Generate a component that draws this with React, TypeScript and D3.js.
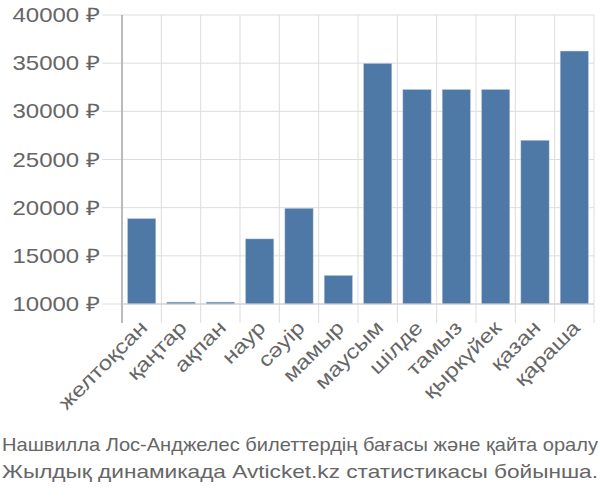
import React from "react";
import * as d3 from "d3";

const categories = ["желтоқсан", "қаңтар", "ақпан", "наур", "сәуір", "мамыр", "маусым", "шілде", "тамыз", "қыркүйек", "қазан", "қараша"];
const prices = [18870, 10200, 10200, 16760, 19940, 12970, 34980, 32270, 32270, 32270, 27000, 36260];
const yTicks = [10000, 15000, 20000, 25000, 30000, 35000, 40000];
const titleLines = [
  "Нашвилла Лос-Анджелес билеттердің бағасы және қайта оралу",
  "Жылдық динамикада Avticket.kz статистикасы бойынша.",
];

export default function App() {
  const W = 600, H = 500;
  const left = 122, right = 594, top = 15, bottom = 304, tickEnd = 323;
  const x = d3.scaleBand<string>().domain(categories).range([left, right]).paddingInner(0.28).paddingOuter(0.14);
  const xg = d3.scaleBand<string>().domain(categories).range([left, right]);
  const y = d3.scaleLinear().domain([10000, 40000]).range([bottom, top]);
  const textColor = "#666";
  const font = "'Liberation Sans', Arial, sans-serif";
  return (
    <svg width={W} height={H} style={{ position: "absolute", left: 0, top: 0 }} fontFamily={font}>
      <rect width={W} height={H} fill="#fff" />
      {yTicks.map((t) => (
        <g key={t}>
          <line x1={102} x2={right} y1={y(t)} y2={y(t)} stroke="#ddd" strokeWidth={1} />
          <text
            transform={`translate(100,${y(t)}) scale(1.2,1)`}
            dy="0.35em"
            textAnchor="end"
            fontSize={20}
            fill={textColor}
          >
            {t} ₽
          </text>
        </g>
      ))}
      {categories.map((c) => (
        <line key={c} x1={xg(c)!} x2={xg(c)!} y1={top} y2={tickEnd} stroke="#ddd" />
      ))}
      <line x1={right} x2={right} y1={top} y2={tickEnd} stroke="#ddd" />
      {categories.map((c, i) => (
        <rect
          key={c}
          x={x(c)!}
          y={y(prices[i])}
          width={x.bandwidth()}
          height={bottom - y(prices[i])}
          fill="#4e79a7"
          stroke="#c8d4e3"
          strokeWidth={0.5}
        />
      ))}
      <line x1={left} x2={left} y1={top} y2={tickEnd} stroke="#aaa" strokeWidth={1.5} />
      <line x1={left} x2={right} y1={bottom} y2={bottom} stroke="#ccc" strokeWidth={1} />
      {categories.map((c) => {
        const cx = xg(c)! + xg.bandwidth() / 2 + 2;
        const cy = 324;
        return (
          <text
            key={c}
            transform={`translate(${cx},${cy}) rotate(-45) scale(1.2,1)`}
            textAnchor="end"
            dy="0.35em"
            fontSize={20}
            fill={textColor}
          >
            {c}
          </text>
        );
      })}
      {titleLines.map((l, i) => (
        <text
          key={i}
          x={2}
          y={451 + i * 27}
          textLength={596}
          lengthAdjust="spacingAndGlyphs"
          fontSize={18.5}
          fill={textColor}
        >
          {l}
        </text>
      ))}
    </svg>
  );
}
